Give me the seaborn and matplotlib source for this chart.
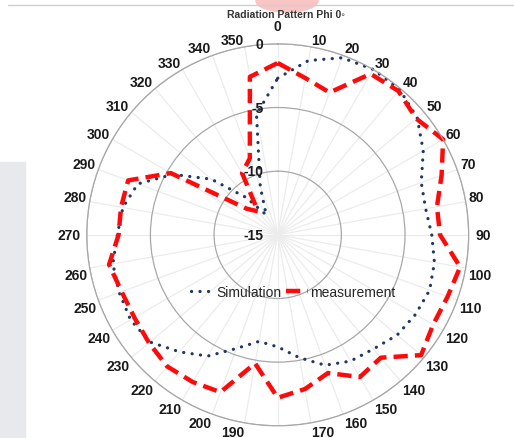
import numpy as np
import pandas as pd
import seaborn as sns
import matplotlib.pyplot as plt
from matplotlib.patches import Rectangle, Ellipse
from matplotlib.transforms import offset_copy

angles = list(range(0, 360, 10))
simulation = [-2.7, -1.1, -0.2, 0.0, -0.1, -0.7, -1.8, -3.0, -3.2, -2.9,
              -2.5, -2.3, -2.5, -2.75, -3.3, -3.55, -4.1, -5.2, -6.2, -6.5,
              -5.5, -4.0, -3.0, -1.9, -1.65, -1.75, -1.85, -2.4, -2.65, -3.3,
              -5.5, -8.2, -11.2, -13.2, -11.0, -5.4]
measurement = [-1.5, -2.5, -3.1, -0.4, -0.25, -0.8, 0.0, -1.3, -2.3, -2.25,
               -0.45, -0.8, -0.9, -0.3, -2.4, -2.1, -3.45, -2.7, -2.2, -4.75,
               -1.85, -1.65, -1.5, -1.8, -2.0, -1.95, -1.55, -2.5, -2.5, -2.5,
               -5.3, -11.8, -12.6, -9.4, -8.6, -2.4]
radial_ticks = [-15, -10, -5, 0]

sns.set_theme(style="white")
plt.rcParams["font.family"] = ["Liberation Sans", "DejaVu Sans"]

# close the loop by repeating the first point at 360
def closed(values):
    return pd.DataFrame({
        "theta": np.deg2rad(angles + [360]),
        "value": values + [values[0]],
    })

fig = plt.figure(figsize=(5.14, 4.39), dpi=100)

# screenshot leftovers: grey side panel, top rule, pink tab
fig.patches.append(Rectangle((0, 0), 25 / 514, 1 - 163 / 439, transform=fig.transFigure,
                             color="#e8e9ec", zorder=0))
fig.add_artist(plt.Line2D([8 / 514, 1], [1 - 6 / 439] * 2, transform=fig.transFigure,
                          color="#cfcfcf", lw=1))
fig.patches.append(Ellipse((287 / 514, 1 - 2 / 439), 62 / 514, 22 / 439,
                           transform=fig.transFigure, color="#f8c4c4", zorder=0))

ax = fig.add_axes([0.1687, 0.0278, 0.7432, 0.870], projection="polar")
ax.set_theta_zero_location("N")
ax.set_theta_direction(-1)

sns.lineplot(data=closed(simulation), x="theta", y="value", ax=ax, sort=False,
             color="#1f3864", lw=2.3, linestyle=(0, (0.05, 2.6)),
             dash_capstyle="round", label="Simulation", clip_on=False)
sns.lineplot(data=closed(measurement), x="theta", y="value", ax=ax, sort=False,
             color="#ff0a0a", lw=3.2, linestyle=(0, (3.2, 1.6)),
             label="measurement", clip_on=False)

ax.set_ylim(-15, 0)
ax.set_yticks(radial_ticks)
ax.set_yticklabels([])
ax.set_xticks(np.deg2rad(angles))
ax.set_xticklabels([])
ax.set_xlabel("")
ax.set_ylabel("")
ax.grid(True)
ax.yaxis.grid(True, color="#a8a8a8", lw=0.9)
ax.xaxis.grid(True, color="#ececec", lw=0.9)
ax.spines["polar"].set_color("#a8a8a8")
ax.spines["polar"].set_linewidth(0.9)

# angle labels, anchored by their nearest corner just outside the rim (Excel style)
for a in angles:
    s, c = np.sin(np.deg2rad(a)), np.cos(np.deg2rad(a))
    ha = "center" if abs(s) < 0.01 else ("left" if s > 0 else "right")
    if abs(c) < 0.01:
        va, r = "center", 0.5
    elif c > 0:
        va, r = "baseline", 0.25
    else:
        va, r = "top", 0.15
    if a in (0, 180):
        r = 1.05
    ax.text(np.deg2rad(a), r, str(a), ha=ha, va=va, fontsize=10, fontweight="bold",
            color="#1a1a1a", clip_on=False)

lab_tr = offset_copy(ax.transData, fig=fig, x=-14, y=0, units="dots")
for t in radial_ticks:
    ax.text(0, t, str(t), transform=lab_tr, ha="right", va="center",
            fontsize=10, fontweight="bold", color="#1a1a1a", zorder=5)

ax.legend(loc="center", bbox_to_anchor=(293.5 / 514, 1 - 293 / 439),
          bbox_transform=fig.transFigure, ncol=2, frameon=False, fontsize=10,
          handlelength=1.6, handletextpad=0.2, columnspacing=0.3)

fig.text(286 / 514, 1 - 15 / 439, "Radiation Pattern Phi 0◦", ha="center", va="center",
         fontsize=7.5, fontweight="bold", color="#333333")

fig.savefig("out.png", dpi=100)
